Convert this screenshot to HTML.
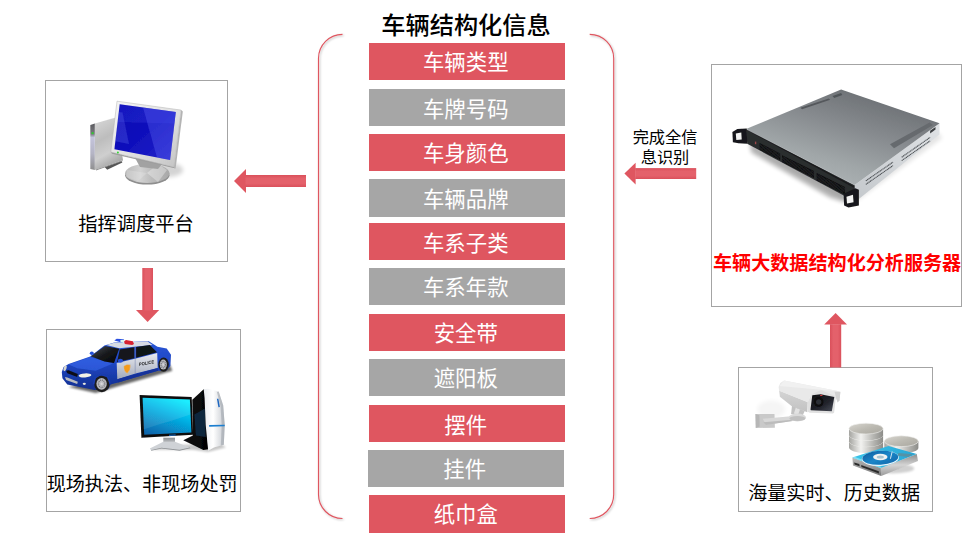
<!DOCTYPE html>
<html lang="zh-CN">
<head>
<meta charset="utf-8">
<title>车辆结构化信息</title>
<style>
html,body{margin:0;padding:0;background:#fff;}
body{width:972px;height:534px;position:relative;overflow:hidden;
  font-family:"Liberation Sans","Noto Sans CJK SC",sans-serif;color:#000;}
.abs{position:absolute;}
.box{position:absolute;border:1px solid #a4a4a4;background:#fff;box-sizing:border-box;}
.bar{position:absolute;left:369px;width:196px;height:37px;color:#fff;font-size:21.4px;text-indent:-2.5px;box-sizing:border-box;padding-top:2px;
  text-align:center;line-height:37px;white-space:nowrap;}
.red{background:#df5660;}
.gray{background:#a6a6a6;}
.lbl{position:absolute;white-space:nowrap;font-size:19.1px;line-height:24px;text-align:center;}
#title{position:absolute;left:366px;width:200px;top:10.2px;font-size:24.2px;font-weight:500;
  text-align:center;line-height:32px;white-space:nowrap;}
svg{position:absolute;left:0;top:0;overflow:visible;}
</style>
</head>
<body>
<div id="title">车辆结构化信息</div>

<!-- centre bars -->
<div class="bar red"  style="top:43px">车辆类型</div>
<div class="bar gray" style="top:89px;padding-top:3px">车牌号码</div>
<div class="bar red"  style="top:134px">车身颜色</div>
<div class="bar gray" style="top:179px;height:38px;padding-top:3px">车辆品牌</div>
<div class="bar red"  style="top:223px;padding-top:3px">车系子类</div>
<div class="bar gray" style="top:268px">车系年款</div>
<div class="bar red"  style="top:314px">安全带</div>
<div class="bar gray" style="top:359px">遮阳板</div>
<div class="bar red"  style="top:405px;padding-top:3px">摆件</div>
<div class="bar gray" style="top:450px;left:368px">挂件</div>
<div class="bar red"  style="top:495px;height:38px">纸巾盒</div>

<!-- boxes -->
<div class="box" id="b1" style="left:45px;top:80px;width:183px;height:182px"></div>
<div class="box" id="b2" style="left:46px;top:329px;width:195px;height:183px"></div>
<div class="box" id="b3" style="left:711px;top:64px;width:251px;height:243px"></div>
<div class="box" id="b4" style="left:738px;top:367px;width:195px;height:145px"></div>

<!-- labels -->
<div class="lbl" style="left:45px;width:182px;top:213px;font-size:19.3px">指挥调度平台</div>
<div class="lbl" style="left:44.6px;width:195px;top:472.6px">现场执法、非现场处罚</div>
<div class="lbl" style="left:711.6px;width:251px;top:252px;color:#ff0000;font-weight:bold">车辆大数据结构化分析服务器</div>
<div class="lbl" style="left:736.6px;width:195px;top:482.3px">海量实时、历史数据</div>
<div class="lbl" style="left:625px;width:80px;top:128px;font-size:16.2px;line-height:19.5px">完成全信<br>息识别</div>

<!-- brackets + arrows -->
<svg id="lines" width="972" height="534" viewBox="0 0 972 534">
  <defs><filter id="bsh" x="-20%" y="-5%" width="140%" height="110%"><feDropShadow dx="1" dy="1" stdDeviation="0.9" flood-color="#000" flood-opacity=".28"/></filter></defs>
  <g fill="none" stroke="#df5660" stroke-width="1.15" filter="url(#bsh)">
    <path d="M342.5 34.3 A24 24 0 0 0 318.5 58.3 L318.5 494.5 A24 24 0 0 0 342.5 518.5"/>
    <path d="M589.7 34.3 A24 24 0 0 1 613.7 58.3 L613.7 494.5 A24 24 0 0 1 589.7 518.5"/>
  </g>
  <defs>
    <linearGradient id="agh" x1="0" y1="0" x2="0" y2="1"><stop offset="0" stop-color="#da505b"/><stop offset=".3" stop-color="#e4616b"/><stop offset=".7" stop-color="#e4616b"/><stop offset="1" stop-color="#da505b"/></linearGradient>
    <linearGradient id="agv" x1="0" y1="0" x2="1" y2="0"><stop offset="0" stop-color="#da505b"/><stop offset=".3" stop-color="#e4616b"/><stop offset=".7" stop-color="#e4616b"/><stop offset="1" stop-color="#da505b"/></linearGradient>
  </defs>
  <g>
    <!-- left arrow -->
    <path fill="#df5660" d="M246 169 L234 181 L246 193 Z"/>
    <rect fill="url(#agh)" x="245.5" y="175" width="60.5" height="12"/>
    <!-- right arrow -->
    <path fill="#df5660" d="M635.6 162.8 L624.4 173.6 L635.6 184.4 Z"/>
    <rect fill="url(#agh)" x="635.2" y="168.1" width="61" height="10.9"/>
    <!-- down arrow -->
    <path fill="#df5660" d="M136 310 L147.6 322 L159.2 310 Z"/>
    <rect fill="url(#agv)" x="142.3" y="268" width="10.7" height="42.4"/>
    <!-- up arrow -->
    <path fill="#df5660" d="M824.2 324.5 L835.6 313 L847 324.5 Z"/>
    <rect fill="url(#agv)" x="830" y="324.2" width="11.2" height="43.3"/>
  </g>
</svg>

<!-- ICON 1: computer (box 1) -->
<svg id="ic1" width="972" height="534" viewBox="0 0 972 534">
 <defs>
  <filter id="soft" x="-5%" y="-5%" width="110%" height="110%"><feGaussianBlur stdDeviation="0.35"/></filter>
  <filter id="blur2" x="-30%" y="-30%" width="160%" height="160%"><feGaussianBlur stdDeviation="2.2"/></filter>
  <filter id="blur1" x="-30%" y="-30%" width="160%" height="160%"><feGaussianBlur stdDeviation="1.2"/></filter>
  <linearGradient id="scr1" x1="0" y1="0" x2="1" y2="1">
   <stop offset="0" stop-color="#0c0cb2"/><stop offset=".5" stop-color="#1010bc"/><stop offset="1" stop-color="#2626cc"/>
  </linearGradient>
  <linearGradient id="frm1" x1="0" y1="0" x2="1" y2="1">
   <stop offset="0" stop-color="#f6f6f6"/><stop offset=".6" stop-color="#dedede"/><stop offset="1" stop-color="#c2c2c2"/>
  </linearGradient>
  <linearGradient id="twS" x1="0" y1="0" x2=".3" y2="1">
   <stop offset="0" stop-color="#d9d9d9"/><stop offset=".45" stop-color="#bdbdbd"/><stop offset=".75" stop-color="#cfcfcf"/><stop offset="1" stop-color="#a8a8a8"/>
  </linearGradient>
  <linearGradient id="twF" x1="0" y1="0" x2="0" y2="1">
   <stop offset="0" stop-color="#5c5c60"/><stop offset=".22" stop-color="#77777c"/><stop offset=".3" stop-color="#c4c4dc"/><stop offset=".65" stop-color="#b4b4c4"/><stop offset="1" stop-color="#8e8e8e"/>
  </linearGradient>
  <linearGradient id="base1" x1="0" y1="0" x2="1" y2="0">
   <stop offset="0" stop-color="#b8b8b8"/><stop offset=".35" stop-color="#d2d2d2"/><stop offset=".6" stop-color="#bcbcbc"/><stop offset="1" stop-color="#a8a8a8"/>
  </linearGradient>
 </defs>
 <g filter="url(#soft)">
  <ellipse cx="168" cy="170" rx="15" ry="7" fill="#000" opacity=".17" filter="url(#blur2)"/>
  <!-- tower -->
  <polygon points="90.3,125 112,118.2 116,117.6 94.8,123.6" fill="#eeeeee"/>
  <polygon points="94.8,123.6 116,117.6 123,160 94.8,170" fill="url(#twS)"/>
  <polygon points="90.3,125 94.8,123.6 94.8,170 90.3,169" fill="url(#twF)"/>
  <polygon points="104.6,167.1 121.5,160.9 122.4,162.6 107.2,169.8" fill="#565656"/>
  <polygon points="96,169.6 122.6,160.2 122.8,161 96,170.6" fill="#8d8d8d"/>
  <circle cx="92.6" cy="133.2" r="1.1" fill="#2fd02f"/>
  <!-- stand -->
  <ellipse cx="147.3" cy="175.2" rx="22.2" ry="9.4" fill="#8e8e8e"/>
  <ellipse cx="147.3" cy="173.3" rx="22.2" ry="9.6" fill="url(#base1)"/>
  <polygon points="147,173 158,164 167,170 158,182" fill="#fff" opacity=".32"/>
  <polygon points="147,173 127,170 126,177 138,181" fill="#fff" opacity=".18"/>
  <polygon points="134,156 163,163 158,169 140,167" fill="#a2a2a2"/>
  <!-- monitor -->
  <polygon points="181.1,110.1 182.8,111.6 175.6,168.5 174,167.1" fill="#b4b4b4"/>
  <polygon points="110.8,152 174,167.1 175.6,168.5 112,153.8" fill="#9c9c9c"/>
  <polygon points="117,101.2 181.1,110.1 174,167.1 110.8,152" fill="url(#frm1)" stroke="#b2b2b2" stroke-width=".5"/>
  <polygon points="119.7,104.3 175.8,111.9 170.1,160 114.4,149.3" fill="url(#scr1)"/>
  <polygon points="143,107.5 175.8,111.9 170.1,160 157,157.5" fill="#6a74ff" opacity=".30"/>
  <polygon points="119.7,104.3 175.8,111.9 174.4,123.5 118.2,122" fill="#5560ff" opacity=".16"/>
  <polygon points="118.6,112 122.5,112.6 129,144 115.4,141.2" fill="#7d88ff" opacity=".22"/>
  <circle cx="117.9" cy="152.6" r="1" fill="#35d835"/>
 </g>
</svg>

<!-- ICON 2: police car (box 2) -->
<svg id="ic2" width="972" height="534" viewBox="0 0 972 534">
 <defs>
  <linearGradient id="carB" x1="0" y1="0" x2="0" y2="1">
   <stop offset="0" stop-color="#2a57d6"/><stop offset=".45" stop-color="#1f46c4"/><stop offset="1" stop-color="#12308f"/>
  </linearGradient>
  <linearGradient id="carW" x1="0" y1="0" x2="0" y2="1">
   <stop offset="0" stop-color="#e8ebf0"/><stop offset="1" stop-color="#a2a9ba"/>
  </linearGradient>
  <linearGradient id="glass" x1="0" y1="0" x2="1" y2="1">
   <stop offset="0" stop-color="#4a5058"/><stop offset=".5" stop-color="#16181b"/><stop offset="1" stop-color="#050506"/>
  </linearGradient>
 </defs>
 <g filter="url(#soft)">
  <polygon points="68.6,386.9 95.7,393.0 124.1,384.4 172.3,370.8 169.8,364.6 116.7,375.7" fill="#000" opacity=".6" filter="url(#blur1)"/>
  <polygon points="61.8,372.0 63.6,367.1 68.6,364.0 90.2,356.6 104.4,345.5 114.3,342.4 148.8,341.2 157.5,346.7 166.7,348.6 171.0,354.8 170.4,365.9 166.1,370.8 157.5,370.8 118.0,382.5 110.6,384.4 108.1,389.3 94.5,389.9 90.8,389.3 67.3,384.4 62.4,378.2" fill="url(#carB)"/>
  <polygon points="68.6,364.6 90.2,357.0 113.0,363.4 95.7,370.8 77.2,368.3" fill="#3a6cf0" opacity=".55"/>
  <polygon points="106.2,344.9 114.3,342.7 147.6,341.4 152.5,344.9 134.0,346.7 119.2,348.3" fill="#d6dbe4"/>
  <polygon points="90.8,356.2 105.0,346.1 119.2,348.8 114.0,363.1 104.4,361.5" fill="url(#glass)"/>
  <polygon points="119.8,349.6 134.3,347.3 134.3,358.2 117.0,361.9" fill="#15181c"/>
  <polygon points="136.1,347.0 149.8,345.1 157.0,352.3 136.1,357.7" fill="#101215"/>
  <polygon points="116.7,363.1 135.0,358.7 157.2,353.0 157.7,368.1 135.5,373.5 117.3,379.2" fill="url(#carW)"/>
  <polyline points="135.2,346.7 135.2,373.5" fill="none" stroke="#6f7fa8" stroke-width=".5"/>
  <polygon points="117.3,379.2 157.7,368.1 158.1,370.8 118.0,382.5" fill="#16339a"/>
  <ellipse cx="120.4" cy="360.7" rx="2.6" ry="2" fill="#2450d8"/>
  <ellipse cx="91.8" cy="353.3" rx="2" ry="1.8" fill="#2450d8"/>
  <polygon points="114.3,340.6 116.7,338.7 124.1,339.3 122.7,342.7" fill="#2a4fe0"/>
  <polygon points="120.4,339.9 124.1,339.7 124.1,342.9 120.4,342.2" fill="#d8f4f0"/>
  <polygon points="124.1,341.2 126.0,339.9 132.8,341.2 134.0,343.9 132.2,345.1 124.8,343.9" fill="#d62030"/>
  <polygon points="66.1,370.8 68.6,370.2 77.8,373.9 77.2,377.0 67.3,373.3" fill="#0c0f18"/>
  <polygon points="64.9,377.0 67.3,377.6 77.8,381.7 77.2,384.1 66.1,380.1" fill="#b9bcc0"/>
  <ellipse cx="85.0" cy="375.4" rx="6.4" ry="2" fill="#f2f2e6" transform="rotate(-4 85.0 375.4)"/>
  <ellipse cx="65.1" cy="368.3" rx="1.4" ry="3" fill="#d8d8d0" transform="rotate(20 65.1 368.3)"/>
  <ellipse cx="84.3" cy="383.8" rx="1.6" ry="1.1" fill="#e8e8e0"/>
  <ellipse cx="101.9" cy="383.8" rx="7.7" ry="8.4" fill="#1c1c1e"/>
  <ellipse cx="101.6" cy="383.8" rx="5.2" ry="5.9" fill="#b9babf"/>
  <ellipse cx="101.6" cy="383.8" rx="3.2" ry="3.7" fill="none" stroke="#6f7076" stroke-width="1.3" stroke-dasharray=".9 .9"/>
  <ellipse cx="101.6" cy="383.8" rx="1.2" ry="1.3" fill="#d8d8dc"/>
  <ellipse cx="163.6" cy="364.6" rx="5.2" ry="7.2" fill="#1c1c1e"/>
  <ellipse cx="163.3" cy="364.6" rx="3.5" ry="5.0" fill="#b9babf"/>
  <ellipse cx="163.3" cy="364.6" rx="2.2" ry="3.2" fill="none" stroke="#6f7076" stroke-width="1.3" stroke-dasharray=".9 .9"/>
  <ellipse cx="163.3" cy="364.6" rx="0.8" ry="1.1" fill="#d8d8dc"/>
  <path d="M93.5 384.4 L95.1 377.6 L100.7 374.5 L107.5 376.4 L110.3 383.8" fill="none" stroke="#1a3cae" stroke-width="1.6"/>
  <path d="M123.8 366.0 l3.2,-1.6 l3.4,0.4 q.6,5.2 -3.2,8.6 q-3.8,-2 -3.4,-7.4z" fill="#f39a1c" stroke="#c8c8cc" stroke-width=".4"/>
  <text x="0" y="0" font-family="Liberation Sans,sans-serif" font-weight="bold" font-size="4.6" fill="#1a1a1a" transform="translate(139.0 366.1) rotate(-11) skewX(-8)" textLength="15.5" lengthAdjust="spacingAndGlyphs">POLICE</text>
 </g>
</svg>

<!-- ICON 3: workstation (box 2) -->
<svg id="ic3" width="972" height="534" viewBox="0 0 972 534">
 <defs>
  <linearGradient id="sc3" x1=".7" y1="0" x2=".2" y2="1">
   <stop offset="0" stop-color="#04ecff"/><stop offset=".4" stop-color="#05b4e6"/><stop offset="1" stop-color="#0966ac"/>
  </linearGradient>
  <linearGradient id="tw3d" x1="0" y1="0" x2="1" y2="0">
   <stop offset="0" stop-color="#101214"/><stop offset="1" stop-color="#030303"/>
  </linearGradient>
  <linearGradient id="tw3w" x1="0" y1="0" x2="1" y2="0">
   <stop offset="0" stop-color="#e9ecf0"/><stop offset=".45" stop-color="#ffffff"/><stop offset="1" stop-color="#c6cad0"/>
  </linearGradient>
  <linearGradient id="st3" x1="0" y1="0" x2="0" y2="1">
   <stop offset="0" stop-color="#8b8e92"/><stop offset="1" stop-color="#e4e6e8"/>
  </linearGradient>
 </defs>
 <g filter="url(#soft)">
  <polygon points="152.5,449.7 192.9,449.7 207.9,451.9 225.9,447.4 219.9,442.9 160.0,445.9" fill="#000" opacity=".22" filter="url(#blur1)"/>
  <polygon points="192.3,399.8 203.7,389.3 204.9,390.5 208.2,449.2 203.4,450.1 183.3,440.2 192.9,435.4" fill="url(#tw3d)"/>
  <polygon points="194.4,414.5 204.9,408.5 205.7,436.9 195.9,435.4" fill="#145a94" opacity=".38"/>
  <path d="M203.7 389.3 L207.9 388.7 L218.7 391.4 L223.2 405.5 L224.7 425.0 L223.8 444.7 L213.9 447.4 L208.2 450.7 L205.7 425.0 L204.6 398.0 Z" fill="url(#tw3w)"/>
  <polygon points="218.7,391.4 223.2,405.5 224.7,425.0 223.8,444.7 220.8,445.6 221.7,425.0 220.5,405.8 216.9,392.0" fill="#9aa0a8" opacity=".55"/>
  <polygon points="209.1,425.0 224.7,424.7 224.7,426.2 209.1,426.8" fill="#1d7fd0"/>
  <polygon points="216.9,398.7 218.4,398.7 219.9,407.0 218.4,407.3" fill="#1d66c0"/>
  <polygon points="163.3,437.7 175.0,437.7 175.0,445.9 163.3,445.9" fill="url(#st3)"/>
  <polygon points="163.3,441.7 175.0,441.7 189.9,447.4 179.5,449.8 161.5,447.7 151.0,450.1 149.8,448.6" fill="#cfd2d6"/>
  <polygon points="151.0,450.1 161.5,447.7 179.5,449.8 189.9,447.4 190.2,448.3 179.5,450.7 161.5,448.6 151.3,450.7" fill="#8e9296"/>
  <polygon points="139.6,395.0 191.7,397.1 193.1,434.8 141.4,437.8" fill="#0c0c0e"/>
  <polygon points="142.6,397.7 189.9,399.5 191.4,432.5 144.2,434.7" fill="url(#sc3)"/>
  <polygon points="142.6,397.7 189.9,399.5 190.5,414.5 143.5,429.5" fill="#fff" opacity=".10"/>
  <polygon points="169.0,434.7 175.7,434.4 175.7,435.4 169.0,435.7" fill="#1b78d8"/>
 </g>
</svg>

<!-- ICON 4: server (box 3) -->
<svg id="ic4" width="972" height="534" viewBox="0 0 972 534">
 <defs>
  <linearGradient id="svT" gradientUnits="userSpaceOnUse" x1="860" y1="89" x2="830" y2="186">
   <stop offset="0" stop-color="#6c7074"/><stop offset=".38" stop-color="#868a8e"/><stop offset=".75" stop-color="#a0a6a8"/><stop offset="1" stop-color="#adb3b5"/>
  </linearGradient>
  <linearGradient id="svR" x1="0" y1="1" x2="1" y2="0">
   <stop offset="0" stop-color="#c4c8cc"/><stop offset="1" stop-color="#dfe2e5"/>
  </linearGradient>
 </defs>
 <g filter="url(#soft)">
  <polygon points="749.3,141.2 844.8,193.6 846.7,203.0 829.8,197.4 751.2,152.4" fill="#000" opacity=".30" filter="url(#blur2)"/>
  <polygon points="749.7,146.8 853.5,203.6 942.4,138.1 937.5,132.0 855.9,193.7" fill="#000" opacity=".10" filter="url(#blur2)"/>
  <polygon points="854.7,185.1 939.5,123.3 939.5,134.4 855.4,201.7" fill="url(#svR)"/>
  <line x1="865.8" y1="180.9" x2="893.0" y2="162.1" stroke="#4a4e52" stroke-width="1.1" stroke-dasharray="1.2 .5"/>
  <line x1="865.8" y1="184.4" x2="893.0" y2="165.6" stroke="#4a4e52" stroke-width="1.1" stroke-dasharray="1.2 .5"/>
  <line x1="901.7" y1="157.2" x2="930.1" y2="137.4" stroke="#4a4e52" stroke-width="1.1" stroke-dasharray="1.2 .5"/>
  <line x1="901.7" y1="160.6" x2="930.1" y2="140.9" stroke="#4a4e52" stroke-width="1.1" stroke-dasharray="1.2 .5"/>
  <polygon points="930.1,130.7 935.5,127.0 935.5,129.5 930.1,133.4" fill="#3c3f42"/>
  <polygon points="746.0,129.0 854.7,185.1 855.4,201.7 747.2,143.8" fill="#2b2d2f"/>
  <polygon points="759.6,143.1 780.2,153.4 780.2,160.1 759.6,149.8" fill="#0b0b0c"/>
  <line x1="759.6" y1="146.4" x2="780.2" y2="156.7" stroke="#2b2d2f" stroke-width="5.4" stroke-dasharray=".55 .75"/>
  <polygon points="782.1,155.2 813.9,171.1 813.9,177.9 782.1,162.0" fill="#0b0b0c"/>
  <line x1="782.1" y1="158.6" x2="813.9" y2="174.5" stroke="#2b2d2f" stroke-width="5.4" stroke-dasharray=".55 .75"/>
  <polygon points="816.7,173.0 844.8,187.1 844.8,194.5 816.7,180.5" fill="#0b0b0c"/>
  <line x1="816.7" y1="176.8" x2="844.8" y2="190.8" stroke="#2b2d2f" stroke-width="6.0" stroke-dasharray=".55 .75"/>
  <rect x="754.9" y="141.6" width="1.4" height="2.6" fill="#9a4a4a"/>
  <line x1="747.8" y1="130.0" x2="853.8" y2="186.9" stroke="#1a1b1c" stroke-width="1.2"/>
  <polygon points="746.0,129.0 841.1,89.4 939.5,123.3 854.7,185.1" fill="url(#svT)"/>
  <polygon points="800.3,107.7 828.7,98.6 830.2,99.8 802.1,109.2" fill="#54585c"/>
  <polygon points="890.0,144.3 929.6,122.6 933.0,125.0 894.0,148.3" fill="#666a6e"/>
  <polygon points="832.5,96.1 841.1,92.9 842.3,94.9 834.2,97.9" fill="#505458"/>
  <line x1="746.0" y1="129.0" x2="854.7" y2="185.1" stroke="#b4b8bc" stroke-width=".5"/>
  <polygon points="732.4,132.0 737.3,129.0 746.7,128.5 747.2,143.8 738.5,143.3 732.9,142.3" fill="#18191a"/>
  <polygon points="735.8,133.4 741.3,132.5 741.7,139.4 736.3,139.9" fill="#f4f4f4"/>
  <polygon points="843.6,193.7 855.4,188.3 858.9,189.8 858.9,205.6 848.5,207.6 844.1,205.6" fill="#18191a"/>
  <polygon points="846.5,196.7 853.0,194.7 853.5,202.2 847.0,203.6" fill="#f4f4f4"/>
 </g>
</svg>

<!-- ICON 5: camera (box 4) -->
<svg id="ic5" width="972" height="534" viewBox="0 0 972 534">
 <defs>
  <linearGradient id="camS" x1="0" y1="0" x2="0" y2="1">
   <stop offset="0" stop-color="#d4d4d4"/><stop offset="1" stop-color="#c2c2c2"/>
  </linearGradient>
  <linearGradient id="camL" x1="0" y1="0" x2="1" y2="1">
   <stop offset="0" stop-color="#0c0c10"/><stop offset=".6" stop-color="#22242c"/><stop offset="1" stop-color="#4a4e5a"/>
  </linearGradient>
 </defs>
 <g filter="url(#soft)">
  <ellipse cx="771.2" cy="409.3" rx="14" ry="9" fill="#000" opacity=".04" filter="url(#blur2)"/>
  <polygon points="755.5,414.1 774.5,414.1 774.9,427.7 755.8,428.0" fill="#c9c9c9"/>
  <polygon points="755.5,414.1 759.4,415.2 759.7,426.4 755.8,428.0" fill="#b6b6b6"/>
  <polygon points="762.7,418.8 790.9,416.2 792.5,420.9 766.0,424.8" fill="#d8d8d8"/>
  <polygon points="763.4,422.2 792.5,419.8 792.5,421.1 766.0,425.1" fill="#bcbcbc"/>
  <polygon points="792.0,405.4 804.7,411.1 802.3,416.2 791.1,413.9" fill="#c2c2c2"/>
  <polygon points="795.8,407.8 800.0,409.5 798.1,414.8 793.9,413.6" fill="#e2e2e2"/>
  <ellipse cx="797.4" cy="417.5" rx="8.6" ry="3.9" fill="#dadada"/>
  <ellipse cx="797.4" cy="418.5" rx="8" ry="2.6" fill="#c0c0c0"/>
  <polygon points="779.1,390.6 807.7,402.0 807.3,412.3 791.5,406.1 779.9,396.7" fill="url(#camS)"/>
  <path d="M778.6 387.0 L780.3 383.0 L784.1 380.6 L840.4 391.5 L839.5 400.3 L837.6 402.4 L835.8 397.3 L834.6 396.0 L811.2 394.5 L807.7 402.2 L779.1 390.7 Z" fill="#e9e9e9"/>
  <polygon points="784.1,380.6 840.4,391.5 821.1,389.8 779.4,386.1" fill="#f1f1f1"/>
  <polygon points="834.6,391.7 840.4,391.9 839.5,400.3 837.6,402.4 835.8,397.3" fill="#d2d2d2"/>
  <path d="M811.2 394.5 L821.1 390.0 L834.6 395.8 L835.8 397.5 L834.1 412.7 L832.8 413.6 L809.8 412.7 L807.7 411.7 L807.7 402.2 Z" fill="#e0e0e0"/>
  <path d="M812.3 395.2 L820.6 394.3 L834.3 397.1 L831.8 411.2 L810.8 410.2 L810.5 409.5 Z" fill="url(#camL)"/>
  <ellipse cx="818.7" cy="402.0" rx="4.8" ry="4.8" fill="#08080a"/>
  <ellipse cx="818.7" cy="402.0" rx="2.7" ry="2.7" fill="#2c2e36"/>
  <ellipse cx="821.3" cy="395.4" rx="1.3" ry=".6" fill="#d83a3a"/>
 </g>
</svg>

<!-- ICON 6: database + disk (box 4) -->
<svg id="ic6" width="972" height="534" viewBox="0 0 972 534">
 <defs>
  <linearGradient id="dbS" x1="0" y1="0" x2="1" y2="0">
   <stop offset="0" stop-color="#a4a4a0"/><stop offset=".35" stop-color="#f2f2f0"/><stop offset=".7" stop-color="#b8b8b4"/><stop offset="1" stop-color="#8c8c88"/>
  </linearGradient>
  <linearGradient id="dbT" x1="0" y1="0" x2="1" y2="1">
   <stop offset="0" stop-color="#d8d6d0"/><stop offset=".5" stop-color="#bcbab2"/><stop offset="1" stop-color="#a8a69e"/>
  </linearGradient>
  <linearGradient id="hdT" x1="0" y1="0" x2="1" y2="0">
   <stop offset="0" stop-color="#38c4ea"/><stop offset="1" stop-color="#2aa6d4"/>
  </linearGradient>
  <linearGradient id="hdP" x1="0" y1="0" x2="1" y2="1">
   <stop offset="0" stop-color="#0a5a9c"/><stop offset=".5" stop-color="#1c86c8"/><stop offset="1" stop-color="#0c64a8"/>
  </linearGradient>
  <linearGradient id="hdR" x1="0" y1="0" x2="0" y2="1">
   <stop offset="0" stop-color="#8c8c8c"/><stop offset=".5" stop-color="#d4d4d4"/><stop offset="1" stop-color="#9a9a9a"/>
  </linearGradient>
  <linearGradient id="hdF" x1="0" y1="0" x2="0" y2="1">
   <stop offset="0" stop-color="#b8b8b8"/><stop offset="1" stop-color="#787878"/>
  </linearGradient>
 </defs>
 <g filter="url(#soft)">
  <ellipse cx="892.2" cy="468.5" rx="22" ry="5" fill="#000" opacity=".18" filter="url(#blur1)"/>
  <path d="M884.3 441.2 v6.7 a17.0 5.4 0 0 0 34.1 0 v-6.7 z" fill="url(#dbS)"/>
  <ellipse cx="901.3" cy="441.2" rx="17.0" ry="5.4" fill="url(#dbT)" stroke="#f0f0ee" stroke-width=".6"/>
  <path d="M849.0 441.3 v6.3 a17.0 5.4 0 0 0 34.1 0 v-6.3 z" fill="url(#dbS)"/>
  <ellipse cx="866.0" cy="441.3" rx="17.0" ry="5.4" fill="#cfcfca" stroke="#f6f6f4" stroke-width=".7"/>
  <path d="M849.0 435.0 v6.3 a17.0 5.4 0 0 0 34.1 0 v-6.3 z" fill="url(#dbS)"/>
  <ellipse cx="866.0" cy="435.0" rx="17.0" ry="5.4" fill="#cfcfca" stroke="#f6f6f4" stroke-width=".7"/>
  <path d="M849.0 428.6 v6.3 a17.0 5.4 0 0 0 34.1 0 v-6.3 z" fill="url(#dbS)"/>
  <ellipse cx="866.0" cy="428.6" rx="17.0" ry="5.4" fill="url(#dbT)" stroke="#f0f0ee" stroke-width=".6"/>
  <polygon points="880.6,468.0 916.8,453.9 918.0,461.0 881.2,476.1" fill="url(#hdR)"/>
  <polygon points="852.4,457.6 880.6,468.0 881.2,476.1 853.0,465.6" fill="url(#hdF)"/>
  <polygon points="861.2,464.9 878.8,471.2 879.0,473.4 861.4,467.1" fill="#2c2c2c"/>
  <polygon points="854.2,462.4 859.3,464.1 859.6,466.3 854.5,464.6" fill="#2c2c2c"/>
  <polygon points="852.4,457.6 888.5,445.9 916.8,453.9 880.6,468.0" fill="url(#hdT)"/>
  <polygon points="852.4,457.6 854.5,456.8 881.8,467.1 880.6,468.0" fill="#8ee8f8" opacity=".8"/>
  <ellipse cx="880.3" cy="458.4" rx="18.6" ry="7.6" fill="#e8f4fa" transform="rotate(-3 880.3 457.8)"/>
  <ellipse cx="880.3" cy="457.8" rx="18" ry="7" fill="url(#hdP)" transform="rotate(-3 880.3 457.8)"/>
  <ellipse cx="880.3" cy="457.0" rx="7.2" ry="3.2" fill="#f0f2f2"/>
  <ellipse cx="880.3" cy="457.0" rx="3.6" ry="1.6" fill="#a8c4d0"/>
  <line x1="892.2" y1="451.5" x2="890.4" y2="458.8" stroke="#e8f0f4" stroke-width=".9"/>
  <polygon points="898.3,453.0 912.9,454.2 908.0,457.0 897.7,455.8" fill="#5f8c9a" opacity=".8"/>
 </g>
</svg>
</body>
</html>
